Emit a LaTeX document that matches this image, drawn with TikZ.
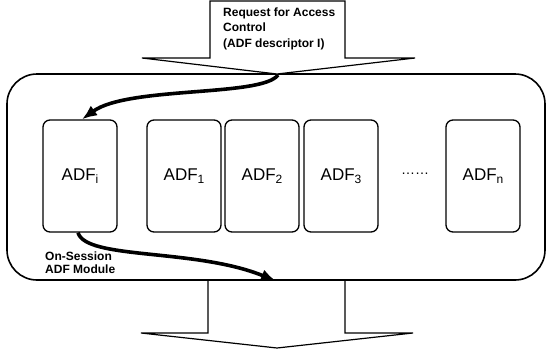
\documentclass[tikz,border=0pt]{standalone}
\usepackage{fontspec}
\setmainfont{Liberation Sans}
\usetikzlibrary{arrows.meta}

% lowered index after ADF
\newcommand{\adfidx}[1]{\raisebox{-3.5pt}{\fontsize{12}{12}\selectfont #1}}

\begin{document}
\begin{tikzpicture}[
            x=1pt, y=-1pt,
            adf/.style={draw, line width=1.3pt, rounded corners=7pt, minimum width=74pt,
                minimum height=112pt, inner sep=0pt, font=\fontsize{17}{20}\selectfont},
            flow/.style={line width=3.6pt, -{Latex[length=15pt,width=12pt]}},
            lbl/.style={font=\fontsize{12}{15}\selectfont\bfseries, align=left, inner sep=0pt}
        ]
            \useasboundingbox (0,0) rectangle (547,349);

            % module frame
            \node [draw, line width=1.6pt, rounded corners=30pt, minimum width=538pt,
                minimum height=206pt, inner sep=0pt] (module) at (276,177) {};
            \node [lbl, anchor=north west, font=\fontsize{12}{12.5}\selectfont\bfseries] (modname) at (45,252) {On-Session\\ADF Module};

            % incoming request
            \draw [line width=1.2pt, fill=white] (210,1) -- (345,1) -- (345,58) -- (415,58)
                -- (277,74) -- (142,58) -- (210,58) -- cycle;
            \node [lbl, anchor=north west] (req) at (223,8) {Request for Access\\Control\\[1pt](ADF descriptor I)};

            % outgoing result
            \draw [line width=1.2pt] (208,281) -- (208,333) -- (141,333) -- (277,348)
                -- (413,333) -- (345,333) -- (345,281);

            % descriptor boxes
            \node [adf] (adfi) at (80,176) {ADF\adfidx{i}};
            \foreach \k/\cx in {1/184,2/262,3/341} {
                \node [adf] (adf\k) at (\cx,176) {ADF\adfidx{\k}};
            }
            \node [adf] (adfn) at (483,176) {ADF\adfidx{n}};
            \node [anchor=base, font=\fontsize{14}{14}\selectfont, inner sep=0pt] (dots) at (415,174) {\textellipsis\textellipsis};

            % selection path
            \coordinate (reqtip) at (278,75);
            \coordinate (outpt) at (276,281);
            \draw [flow] (reqtip) .. controls (262,97) and (128,86) .. ([xshift=2pt]adfi.north);
            \draw [flow] ([xshift=-2pt]adfi.south) .. controls (86,260) and (195,248) .. (outpt);
        \end{tikzpicture}
\end{document}
